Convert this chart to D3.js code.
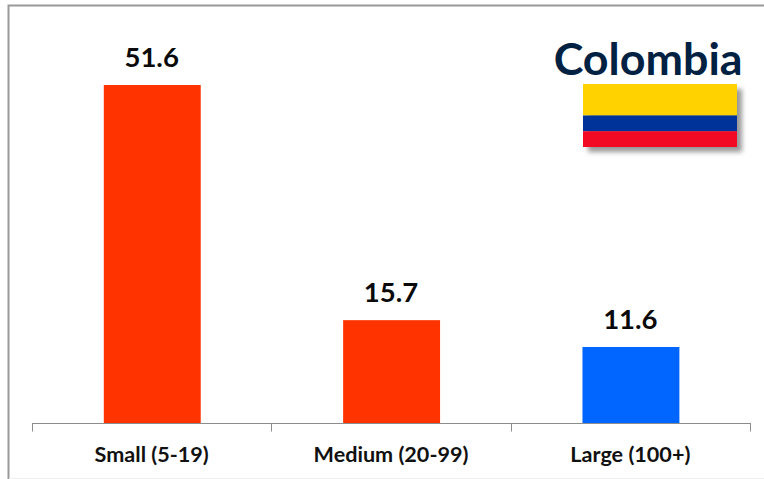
<!DOCTYPE html>
<html><head><meta charset="utf-8">
<script src="https://cdn.jsdelivr.net/npm/d3@7"></script>
<style>html,body{margin:0;padding:0;background:#fff}svg{display:block}text{font-family:Lato,"Open Sans",sans-serif}</style>
</head><body><div id="c"></div>
<script>
const categories = ["Small (5-19)", "Medium (20-99)", "Large (100+)"];
const values = [51.6, 15.7, 11.6];
const barColors = ["#ff3300", "#ff3300", "#0066ff"];
const flagStripes = [["#ffd200", 2], ["#003399", 1], ["#f20a24", 1]];
const title = "Colombia";

const W = 764, H = 479;
const svg = d3.select("#c").append("svg").attr("width", W).attr("height", H);
const defs = svg.append("defs");
const blur = defs.append("filter").attr("id", "s").attr("x", "-10%").attr("y", "-20%").attr("width", "125%").attr("height", "150%");
blur.append("feGaussianBlur").attr("stdDeviation", 2.5);

// frame
svg.append("path").attr("d", "M8.5,479V5.5H764").attr("fill", "none").attr("stroke", "#999").attr("stroke-width", 2);
svg.append("line").attr("x1", 9).attr("x2", 764).attr("y1", 478.5).attr("y2", 478.5).attr("stroke", "#eee");

const x = d3.scaleBand().domain(categories).range([32, 750]).paddingInner(0).paddingOuter(0);
const y = d3.scaleLinear().domain([0, 51.6]).range([423, 85]);
const barW = x.bandwidth() * 0.405;

svg.selectAll("rect.bar").data(values).join("rect").attr("class", "bar")
  .attr("x", (d, i) => x(categories[i]) + (x.bandwidth() - barW) / 2 + 0.6)
  .attr("y", d => y(d)).attr("width", barW).attr("height", d => y(0) - y(d))
  .attr("fill", (d, i) => barColors[i]);

// axis
const axisG = svg.append("g").attr("transform", "translate(0,423.5)");
axisG.append("line").attr("x1", x.range()[0]).attr("x2", x.range()[1] + 1).attr("stroke", "#8c8c8c");
const edges = categories.map(c => x(c)).concat(x.range()[1]);
axisG.selectAll("line.t").data(edges).join("line").attr("class", "t")
  .attr("x1", d => Math.round(d) + 0.5).attr("x2", d => Math.round(d) + 0.5).attr("y1", 0).attr("y2", 8).attr("stroke", "#8c8c8c");
axisG.selectAll("text").data(categories).join("text")
  .attr("x", d => x(d) + x.bandwidth() / 2).attr("y", 38).attr("text-anchor", "middle")
  .attr("font-size", 21.6).attr("font-weight", 700).attr("fill", "#111").text(d => d);

svg.selectAll("text.v").data(values).join("text").attr("class", "v")
  .attr("x", (d, i) => x(categories[i]) + x.bandwidth() / 2)
  .attr("y", d => y(d) - 18).attr("text-anchor", "middle")
  .attr("font-size", 27.5).attr("font-weight", 700).attr("fill", "#0a0a0a").text(d => d.toFixed(1));

svg.append("text").attr("x", 742.5).attr("y", 74.5).attr("text-anchor", "end")
  .attr("font-size", 44.8).attr("font-weight", 700).attr("fill", "#002142").text(title);

// flag
const fx = 583, fy = 84, fw = 154, fh = 63;
svg.append("rect").attr("x", fx + 5).attr("y", fy + 5).attr("width", fw).attr("height", fh)
  .attr("fill", "#555").attr("opacity", 0.6).attr("filter", "url(#s)");
const units = d3.sum(flagStripes, d => d[1]);
const fs = d3.scaleLinear().domain([0, units]).range([fy, fy + fh]);
let acc = 0;
flagStripes.forEach(([col, u]) => {
  svg.append("rect").attr("x", fx).attr("y", fs(acc)).attr("width", fw).attr("height", fs(acc + u) - fs(acc)).attr("fill", col);
  acc += u;
});
</script></body></html>
